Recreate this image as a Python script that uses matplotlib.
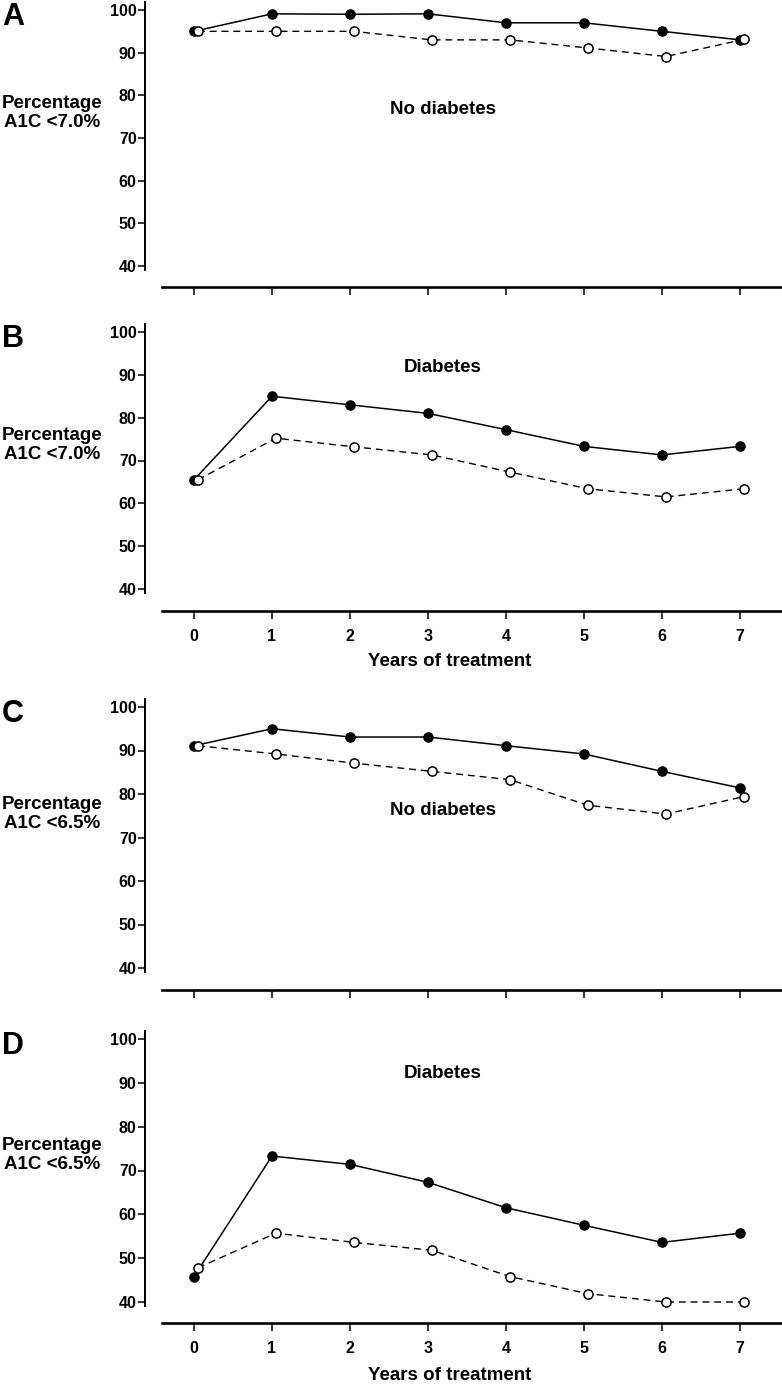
import matplotlib
matplotlib.use('Agg')
import matplotlib.pyplot as plt

plt.rcParams['font.family'] = ['Liberation Sans', 'DejaVu Sans']
plt.rcParams['font.weight'] = 'bold'

years = [0, 1, 2, 3, 4, 5, 6, 7]
panel_letters = ['A', 'B', 'C', 'D']
panel_titles = ['No diabetes', 'Diabetes', 'No diabetes', 'Diabetes']
ylabels = ['Percentage\nA1C <7.0%', 'Percentage\nA1C <7.0%',
           'Percentage\nA1C <6.5%', 'Percentage\nA1C <6.5%']
yticks = [40, 50, 60, 70, 80, 90, 100]

# filled circles (solid line) and open circles (dashed line)
filled = [
    [95, 99.1, 99, 99.1, 97, 97, 95, 93],
    [65.5, 85, 83, 81, 77.2, 73.3, 71.3, 73.3],
    [91.1, 95, 93.1, 93.1, 91.1, 89.2, 85.2, 81.4],
    [45.8, 73.3, 71.4, 67.3, 61.5, 57.5, 53.6, 55.7],
]
opened = [
    [95, 95, 95, 93, 93, 91.1, 89.1, 93.1],
    [65.5, 75.2, 73.2, 71.3, 67.3, 63.4, 61.5, 63.4],
    [91.1, 89.2, 87.1, 85.2, 83.3, 77.4, 75.4, 79.4],
    [47.8, 55.7, 53.6, 51.8, 45.8, 41.9, 40, 40],
]
show_xlabels = [False, True, False, True]

W, H = 782, 1384
fig = plt.figure(figsize=(W / 100, H / 100), dpi=100)

# pixel layout: (y of 100, y of 40, y of x-axis line, title y, ylabel y, xlabel y)
layout = [
    (10, 266, 287, 110, 113, None),
    (332, 589, 611, 368, 445, 662),
    (707, 968, 990, 810, 814, None),
    (1039, 1302, 1323, 1074, 1155, 1375),
]

x0_px, step_px = 194, 78
ax_left_px = 145
xmin = (ax_left_px - x0_px) / step_px
xmax = (W - x0_px) / step_px
px2pt = 0.72

for i in range(4):
    p100, p40, pax, ty, ly, xly = layout[i]
    k = (p40 - p100) / 60.0
    top_px = p100 - 8
    bot_px = p40 + 4
    ax = fig.add_axes([ax_left_px / W, 1 - bot_px / H,
                       (W - ax_left_px) / W, (bot_px - top_px) / H])
    ax.set_xlim(xmin, xmax)
    ax.set_ylim(40 - 4 / k, 100 + 8 / k)

    ax.plot(years, filled[i], color='black', lw=1.1, marker='o',
            markersize=6.6, markerfacecolor='black', markeredgecolor='black',
            zorder=3, clip_on=False)
    ax.plot([x + 0.05 for x in years], opened[i], color='black', lw=1.0,
            ls=(0, (5, 3.5)), marker='o', markersize=6.6,
            markerfacecolor='white', markeredgecolor='black',
            markeredgewidth=1.1, zorder=4, clip_on=False)

    for s in ['top', 'right']:
        ax.spines[s].set_visible(False)
    ax.spines['left'].set_linewidth(1.4)
    ax.spines['bottom'].set_linewidth(1.9)
    ax.spines['bottom'].set_position(('outward', (pax - bot_px) * px2pt))
    ax.spines['bottom'].set_bounds((162 - x0_px) / step_px, xmax)

    ax.set_yticks(yticks)
    ax.set_xticks(years)
    ax.tick_params(axis='y', direction='out', length=5, width=1.1,
                   labelsize=11.5, pad=1)
    ax.tick_params(axis='x', direction='out', length=5.8, width=1.1,
                   labelsize=11.5, pad=7)
    if not show_xlabels[i]:
        ax.set_xticklabels([])
    for lab in ax.get_xticklabels() + ax.get_yticklabels():
        lab.set_fontweight('bold')

    fig.text(2 / W, 1 - (p100 + 7) / H, panel_letters[i], fontsize=22,
             fontweight='bold', ha='left', va='center')
    fig.text(52 / W, 1 - ly / H, ylabels[i], fontsize=13.5, fontweight='bold',
             ha='center', va='center', linespacing=1.2)
    fig.text(443 / W, 1 - ty / H, panel_titles[i], fontsize=13.5,
             fontweight='bold', ha='center', va='center')
    if xly is not None:
        fig.text(450 / W, 1 - xly / H, 'Years of treatment', fontsize=13.5,
                 fontweight='bold', ha='center', va='center')

fig.savefig('out.png', dpi=100)
